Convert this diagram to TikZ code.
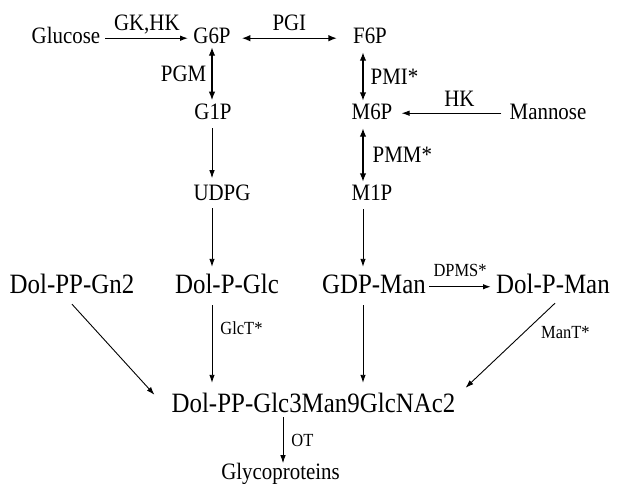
\documentclass[tikz,border=0pt]{standalone}
\usepackage{fontspec}
\setmainfont[FakeStretch=0.89]{Liberation Serif}
\usetikzlibrary{arrows.meta,calc}

\begin{document}
\begin{tikzpicture}[x=1pt, y=-1pt,
  cpd/.style={anchor=base, inner sep=0pt, text height=15.6pt, text depth=0pt, font=\fontsize{23.5}{28}\selectfont},
  big/.style={anchor=base, inner sep=0pt, text height=18.5pt, text depth=0pt, font=\fontsize{28}{33}\selectfont},
  lbl/.style={inner sep=0pt, text height=15.6pt, text depth=0pt, font=\fontsize{23.5}{28}\selectfont},
  slbl/.style={inner sep=0pt, text height=12.2pt, text depth=0pt, font=\fontsize{18.5}{22}\selectfont},
  arr/.style={line width=0.9pt, -{Latex[length=8pt, width=5.5pt]}},
  darr/.style={line width=1.4pt, {Latex[length=8.5pt, width=6.5pt]}-{Latex[length=8.5pt, width=6.5pt]}}]
  \useasboundingbox (0,0) rectangle (619,483);

  % Sugar phosphates
  \node[cpd] (glucose) at (66,43) {Glucose};
  \node[cpd] (g6p) at (212,43) {G6P};
  \node[cpd] (f6p) at (370,43) {F6P};
  \node[cpd] (g1p) at (213,119) {G1P};
  \node[cpd] (m6p) at (372,119) {M6P};
  \node[cpd] (mannose) at (548,119) {Mannose};
  \node[cpd] (udpg) at (222,200) {UDPG};
  \node[cpd] (m1p) at (372,200) {M1P};

  % Dolichol donors and products
  \node[big] (gn2) at (72,293) {Dol-PP-Gn2};
  \node[big] (dolpglc) at (227,293) {Dol-P-Glc};
  \node[big] (gdpman) at (374,293) {GDP-Man};
  \node[big] (dolpman) at (553,293) {Dol-P-Man};
  \node[big] (llo) at (313.5,412) {Dol-PP-Glc3Man9GlcNAc2};
  \node[cpd] (glyco) at (280.5,479) {Glycoproteins};

  % Columns of the vertical arrows
  \coordinate (colL) at (212,0);
  \coordinate (colR) at (363,0);
  \coordinate (colO) at (283,0);

  % Top row
  \draw[arr, line width=1.4pt] ($(glucose.east)+(5,3)$) -- node[lbl, above=7pt] {GK,HK} ($(g6p.west)+(-5,3)$);
  \draw[darr] ($(g6p.east)+(11,3)$) -- node[lbl, above=7pt] {PGI} ($(f6p.west)+(-16,3)$);

  % Glucose branch
  \draw[darr] ($(g6p.south -| colL)+(0,4)$) -- node[lbl, left=5pt] {PGM} ($(g1p.north -| colL)+(0,-3)$);
  \draw[arr] ($(g1p.south -| colL)+(0,9)$) -- ($(udpg.north -| colL)+(0,-6)$);
  \draw[arr] ($(udpg.south -| colL)+(0,8)$) -- ($(dolpglc.north -| colL)+(0,-7.5)$);
  \draw[arr] ($(dolpglc.south -| colL)+(0,12)$) -- node[slbl, right=8pt, pos=0.3] {GlcT*} ($(llo.north -| colL)+(0,-10.5)$);

  % Mannose branch
  \draw[darr] ($(f6p.south -| colR)+(0,9)$) -- node[lbl, right=7pt] {PMI*} ($(m6p.north -| colR)+(0,-2.4)$);
  \draw[arr] ($(mannose.west)+(-8,2)$) -- node[lbl, above=6pt, pos=0.42] {HK} ($(m6p.east)+(9,2)$);
  \draw[darr] ($(m6p.south -| colR)+(0,9)$) -- node[lbl, right=9pt] {PMM*} ($(m1p.north -| colR)+(0,-2.4)$);
  \draw[arr] ($(m1p.south -| colR)+(0,9)$) -- ($(gdpman.north -| colR)+(0,-7.5)$);
  \draw[arr, line width=1.4pt] ($(gdpman.east)+(3,3)$) -- node[slbl, above=10pt] {DPMS*} ($(dolpman.west)+(-5,3)$);
  \draw[arr] ($(gdpman.south -| colR)+(0,12)$) -- ($(llo.north -| colR)+(0,-10.5)$);

  % Diagonals into the oligosaccharide
  \draw[arr] ($(gn2.south)+(0,11)$) -- ($(llo.west)+(-17,-8)$);
  \draw[arr] ($(dolpman.south)+(2,10)$) -- node[slbl, pos=0.35, right=17pt] {ManT*} ($(llo.east)+(10,-15)$);

  % Transfer to protein
  \draw[arr] ($(llo.south -| colO)+(0,5)$) -- node[slbl, right=8pt] {OT} (glyco.north -| colO);
\end{tikzpicture}
\end{document}
